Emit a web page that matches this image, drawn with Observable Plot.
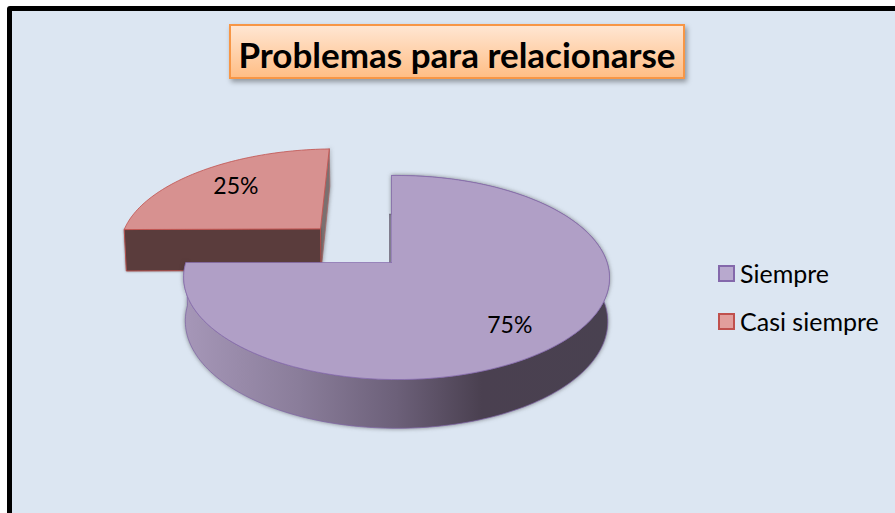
<!DOCTYPE html>
<html>
<head>
<meta charset="utf-8">
<script src="https://cdn.jsdelivr.net/npm/d3@7"></script>
<script src="https://cdn.jsdelivr.net/npm/@observablehq/plot@0.6"></script>
<style>
html,body{margin:0;padding:0;background:#fff;overflow:hidden}
#wrap{position:relative;width:895px;height:513px;overflow:hidden;font-family:Lato,sans-serif}
#panel{position:absolute;left:7px;top:6px;width:900px;height:520px;background:#DCE6F2;border:5px solid #000;border-radius:3px;box-sizing:border-box}
#chart{position:absolute;left:0;top:0}
#title{position:absolute;left:229px;top:24px;width:456px;height:55px;box-sizing:border-box;border:2px solid #F79646;
 background:linear-gradient(#FFE6D2,#FFBE86);box-shadow:2px 3px 5px rgba(0,0,0,.35);
 font-weight:700;font-size:35px;line-height:57px;text-align:center;color:#000;white-space:nowrap}
.lg{position:absolute;left:718px;display:flex;align-items:center;font-size:25px;color:#000;white-space:nowrap;height:24px}
.lg i{display:block;width:17px;height:17px;box-sizing:border-box;border:2px solid;margin-right:5px}
</style>
</head>
<body>
<div id="wrap">
  <div id="panel"></div>
  <div id="chart"></div>
  <div id="title"></div>
</div>
<script>
const chartTitle = "Problemas para relacionarse";
const categories = ["Siempre", "Casi siempre"];
const values = [75, 25];
const topColors = ["#B09FC6", "#D79190"];
const edgeColors = ["#8468AB", "#C0504D"];
const swatchColors = ["#B8A9CE", "#E29E9C"];
const legendTops = [261, 309];

// Perspective view of the pie plane, in units of the pie radius
const P = 0.147, Q = -0.0236, EXPLODE = 0.358, SMALL_R = 1.02;
function project(u, v, lower) {
  const w = 1 + P * v + Q * u;
  return lower
    ? {x: 0.992 * u / w, y: 1.049 * v / w - 0.431}
    : {x: u / w, y: v / w};
}
const total = d3.sum(values);
const f0 = 0, f1 = values[0] / total, f2 = 1;
const polar = (f, r, ou = 0, ov = 0) => [ou + r * Math.sin(2 * Math.PI * f), ov + r * Math.cos(2 * Math.PI * f)];
function arc(a, b, r, ou, ov, lower) {
  const n = Math.ceil((b - a) * 240), out = [];
  for (let i = 0; i <= n; ++i) {
    const [u, v] = polar(a + (b - a) * i / n, r, ou, ov);
    out.push(project(u, v, lower));
  }
  return out;
}
// first category sits at the centre, second is pulled out along its mid angle
const midB = (f1 + f2) / 2;
const [ou, ov] = polar(midB, EXPLODE * Math.SQRT2);

const bigApex = project(0, 0, false);
const bigTop = [bigApex, ...arc(f0, f1, 1, 0, 0, false), bigApex];
const bigWall = [...arc(f0, f1, 1, 0, 0, false), ...arc(f0, f1, 1, 0, 0, true).reverse()];
const bigInner = [project(0, 1, true), bigApex];

const apexT = project(ou, ov, false), apexB = project(ou, ov, true);
const smallTop = [apexT, ...arc(f1, f2, SMALL_R, ou, ov, false), apexT];
const leftT = project(ou - SMALL_R, ov, false), leftB = project(ou - SMALL_R, ov, true);
const farT = project(ou, ov + SMALL_R, false), farB = project(ou, ov + SMALL_R, true);
const smallFront = [apexT, leftT, leftB, apexB, apexT];
const smallInner = [farT, apexT, apexB, farB, farT];

const labelAt = (f, r, a, b) => { const [u, v] = polar(f, r, a, b); return project(u, v, false); };
const bigLabel = [{...labelAt(f1 / 2, 0.77, 0, 0), text: values[0] + "%"}];
const smallLabel = [{...labelAt(midB, 0.62, ou, ov), text: values[1] + "%"}];

const xy = {x: "x", y: "y"};
const shadow = "drop-shadow(0px 0px 2px rgba(40,40,40,.55))";
const labelStyle = {...xy, text: "text", fontSize: 23, fontFamily: "Lato, sans-serif", fill: "#000"};
const plot = Plot.plot({
  width: 895, height: 513,
  marginTop: 0, marginRight: 0, marginBottom: 0, marginLeft: 0,
  style: {background: "transparent", overflow: "visible"},
  x: {domain: [-1, 1], range: [180.5, 601.5], axis: null},
  y: {domain: [-1, 1], range: [361.8, 162.2], axis: null},
  marks: [
    Plot.line(smallInner, {...xy, fill: "#7A7070", stroke: "#A86A68", strokeWidth: 0.8, imageFilter: shadow}),
    Plot.line(smallFront, {...xy, fill: "#5A3C3C", stroke: "#B5514E", strokeWidth: 1, imageFilter: "drop-shadow(0px 0px 1px rgba(40,40,40,.5))"}),
    Plot.line(smallTop, {...xy, fill: topColors[1], stroke: edgeColors[1], strokeWidth: 0.8}),
    Plot.line(bigInner, {...xy, stroke: "#6A6375", strokeWidth: 1.6, dx: -1.5, imageFilter: "blur(0.7px)"}),
    Plot.line(bigWall, {...xy, fill: "url(#wallGrad)", stroke: "#7F63A6", strokeWidth: 0.7, imageFilter: shadow}),
    Plot.line(bigTop, {...xy, fill: topColors[0], stroke: edgeColors[0], strokeWidth: 0.7}),
    Plot.text(bigLabel, {...labelStyle, dx: -8, dy: 3}),
    Plot.text(smallLabel, {...labelStyle, dx: -8, dy: -6})
  ]
});
// gradient definition for the outer wall of the large slice
const defs = d3.create("svg:defs");
const grad = defs.append("linearGradient").attr("id", "wallGrad").attr("x1", 0).attr("x2", 1).attr("y1", 0).attr("y2", 0);
[[0, "#A697B8"], [0.27, "#8A7D9A"], [0.5, "#6C6079"], [0.7, "#4A4050"], [1, "#494150"]].forEach(([o, c]) =>
  grad.append("stop").attr("offset", o).attr("stop-color", c));
plot.insertBefore(defs.node(), plot.firstChild);
document.getElementById("chart").appendChild(plot);

document.getElementById("title").textContent = chartTitle;
const wrap = document.getElementById("wrap");
categories.forEach((c, i) => {
  const row = document.createElement("div");
  row.className = "lg";
  row.style.top = legendTops[i] + "px";
  const sw = document.createElement("i");
  sw.style.background = swatchColors[i];
  sw.style.borderColor = edgeColors[i];
  row.appendChild(sw);
  row.appendChild(document.createTextNode(c));
  wrap.appendChild(row);
});
</script>
</body>
</html>
